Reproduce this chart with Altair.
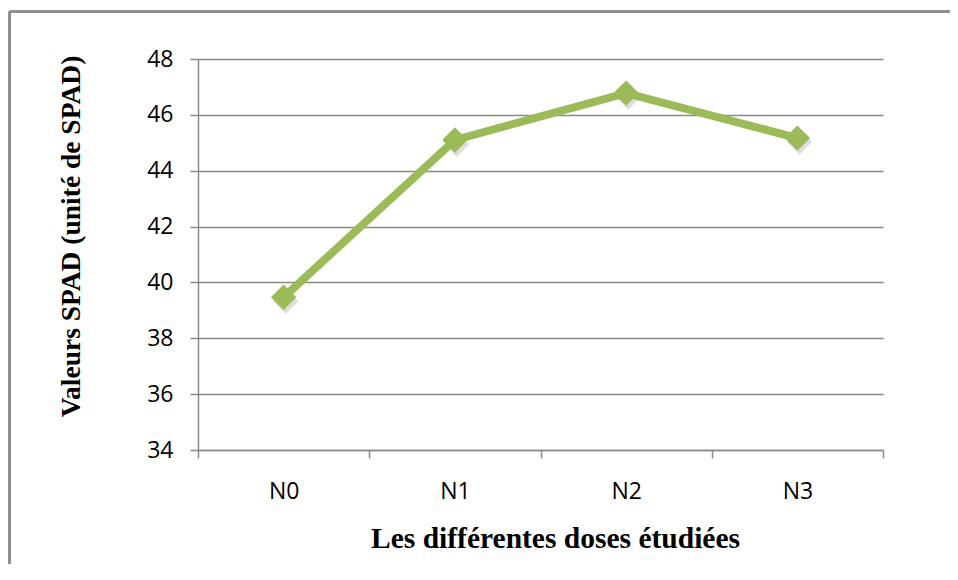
import altair as alt
import pandas as pd

doses = ["N0", "N1", "N2", "N3"]
spad = [39.47, 45.1, 46.78, 45.17]
y_ticks = [34, 36, 38, 40, 42, 44, 46, 48]

df = pd.DataFrame({"dose": doses, "spad": spad})

GREEN = "#9BBB59"
GRID = "#8a8a8a"

x_enc = alt.X(
    "dose:N",
    sort=doses,
    scale=alt.Scale(type="band", paddingInner=0, paddingOuter=0),
    axis=alt.Axis(
        title="Les différentes doses étudiées",
        titleFont="Liberation Serif",
        titleFontSize=29.5,
        titleFontWeight="bold",
        titleColor="#000000",
        titleX=357,
        titleY=97,
        titleBaseline="alphabetic",
        titleAlign="center",
        labelFont="Open Sans",
        labelFontSize=23,
        labelColor="#000000",
        labelAngle=0,
        labelPadding=22,
        labelBaseline="top",
        tickBand="extent",
        tickSize=8,
        tickColor=GRID,
        tickWidth=1.5,
        domainColor=GRID,
        domainWidth=1.5,
        grid=False,
    ),
)

y_enc = alt.Y(
    "spad:Q",
    scale=alt.Scale(domain=[34, 48], nice=False, zero=False),
    axis=alt.Axis(
        values=y_ticks,
        title="Valeurs SPAD (unité de SPAD)",
        titleFont="Liberation Serif",
        titleFontSize=27.5,
        titleFontWeight="bold",
        titleColor="#000000",
        titleAngle=270,
        titleX=-127,
        titleY=177,
        titleAlign="center",
        titleBaseline="middle",
        labelFont="Open Sans",
        labelFontSize=23,
        labelColor="#000000",
        labelPadding=17,
        tickSize=8,
        tickColor=GRID,
        tickWidth=1.5,
        domainColor=GRID,
        domainWidth=1.5,
        grid=True,
        gridColor=GRID,
        gridWidth=1.5,
    ),
)

base = alt.Chart(df)

shadow = base.mark_point(
    shape="diamond", filled=True, size=640, color="#000000", opacity=0.13,
    xOffset=2, yOffset=4,
).encode(x=x_enc, y=y_enc)

line = base.mark_line(color=GREEN, strokeWidth=8).encode(x=x_enc, y=y_enc)

points = base.mark_point(
    shape="diamond", filled=True, size=640, color=GREEN, opacity=1
).encode(x=x_enc, y=y_enc)

border_left = alt.Chart(df).mark_rule(color="#8c8c8c", strokeWidth=2).encode(
    x=alt.value(-188.5), y=alt.value(-47.5), y2=alt.value(530)
)
border_top = alt.Chart(df).mark_rule(color="#8c8c8c", strokeWidth=2).encode(
    x=alt.value(-188.5), x2=alt.value(780), y=alt.value(-47.5)
)

chart = (
    alt.layer(shadow, line, points, border_left, border_top)
    .properties(
        width=685,
        height=391,
        autosize=alt.AutoSizeParams(type="none"),
        padding={"left": 190, "top": 51, "right": 67, "bottom": 114},
        background="#ffffff",
    )
    .configure_view(stroke=None)
)

chart.save("out.html", embed_options={"renderer": "svg", "actions": False})
